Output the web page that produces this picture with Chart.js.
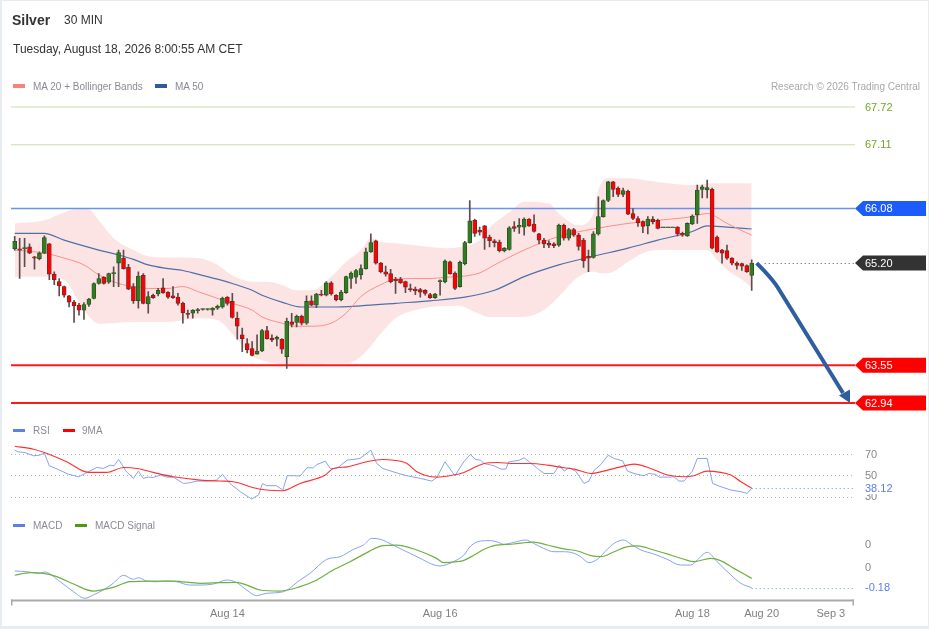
<!DOCTYPE html>
<html>
<head>
<meta charset="utf-8">
<script src="https://cdn.jsdelivr.net/npm/chart.js@4.4.0/dist/chart.umd.min.js"></script>
<style>
html,body{margin:0;padding:0;background:#fff;}
#wrap{position:relative;width:929px;height:629px;overflow:hidden;font-family:"Liberation Sans",Arial,sans-serif;}
#c{position:absolute;left:0;top:0;}
#frame{position:absolute;left:0;top:0;width:929px;height:629px;box-sizing:border-box;border-style:solid;border-color:#e6ecef;border-width:1px 1px 3px 2px;pointer-events:none;}
.t{position:absolute;white-space:nowrap;line-height:1;}
.sw{position:absolute;width:12px;height:4px;}
</style>
</head>
<body>
<div id="wrap">
  <canvas id="c" width="929" height="629"></canvas>
  <div class="t" style="left:12px;top:13px;font-size:14px;font-weight:bold;color:#333;">Silver</div>
  <div class="t" style="left:64px;top:14px;font-size:12px;color:#333;">30 MIN</div>
  <div class="t" style="left:13px;top:43px;font-size:12px;color:#333;">Tuesday, August 18, 2026 8:00:55 AM CET</div>

  <div class="sw" style="left:13px;top:84px;background:#ff7f7f;"></div>
  <div class="t" style="left:33px;top:82px;font-size:10px;color:#8a8a96;">MA 20 + Bollinger Bands</div>
  <div class="sw" style="left:155px;top:84px;background:#2f5b9a;"></div>
  <div class="t" style="left:175px;top:82px;font-size:10px;color:#8a8a96;">MA 50</div>
  <div class="t" style="right:9px;top:82px;font-size:10px;color:#a8a8a8;">Research © 2026 Trading Central</div>

  <div class="sw" style="left:13px;top:429px;height:3px;background:#5b80e8;"></div>
  <div class="t" style="left:33px;top:426px;font-size:10px;color:#8a8a96;">RSI</div>
  <div class="sw" style="left:63px;top:429px;height:3px;background:#ff0000;"></div>
  <div class="t" style="left:82px;top:426px;font-size:10px;color:#8a8a96;">9MA</div>

  <div class="sw" style="left:13px;top:524px;height:3px;background:#5b80e8;"></div>
  <div class="t" style="left:33px;top:521px;font-size:10px;color:#8a8a96;">MACD</div>
  <div class="sw" style="left:75px;top:524px;height:3px;background:#4c9a12;"></div>
  <div class="t" style="left:95px;top:521px;font-size:10px;color:#8a8a96;">MACD Signal</div>
  <div id="frame"></div>
</div>
<script>
// ---------------- DATA ----------------
const openP = [65.43,65.43,65.43,65.46,65.30,65.27,65.36,65.51,65.02,64.90,
64.82,64.67,64.57,64.52,64.44,64.53,64.63,64.87,64.97,64.89,
65.03,65.20,65.28,65.13,64.82,64.59,65.00,64.54,64.68,64.70,
64.80,64.73,64.67,64.65,64.55,64.39,64.39,64.43,64.45,64.45,
64.44,64.47,64.49,64.65,64.58,64.31,64.04,63.90,63.82,63.73,
63.78,64.11,63.99,63.97,63.97,63.69,64.25,64.24,64.34,64.23,
64.59,64.52,64.70,64.68,64.88,64.68,64.61,64.72,64.95,64.97,
65.01,65.11,65.38,65.56,65.20,65.06,65.03,64.94,64.94,64.90,
64.78,64.78,64.77,64.76,64.69,64.64,64.90,64.90,65.22,65.04,
64.82,65.19,65.53,65.89,65.73,65.80,65.62,65.56,65.54,65.40,
65.42,65.79,65.78,65.78,65.91,65.83,65.67,65.57,65.52,65.51,
65.49,65.81,65.60,65.74,65.65,65.57,65.31,65.29,65.67,65.95,
66.21,66.51,66.41,66.31,66.36,66.00,65.92,65.87,65.80,65.91,
65.89,65.77,65.77,65.77,65.78,65.68,65.64,65.83,65.98,66.39,
66.38,66.39,65.62,65.41,65.40,65.28,65.20,65.19,65.16,65.00];
const highP = [65.63,65.60,65.60,65.51,65.31,65.38,65.64,65.52,65.06,64.95,
64.83,64.68,64.60,64.55,64.56,64.63,64.88,65.03,64.98,65.04,
65.14,65.41,65.41,65.18,64.87,65.06,65.03,64.74,64.70,64.79,
64.95,64.74,64.82,64.71,64.57,64.44,64.45,64.47,64.46,64.46,
64.48,64.52,64.65,64.66,64.71,64.41,64.15,63.98,63.93,64.04,
64.13,64.18,64.04,64.02,63.98,64.31,64.39,64.36,64.36,64.67,
64.67,64.71,64.76,64.90,64.90,64.69,64.76,64.99,65.06,65.10,
65.17,65.44,65.67,65.57,65.21,65.15,65.10,64.97,64.97,64.91,
64.86,64.81,64.79,64.77,64.71,64.71,64.93,65.25,65.23,65.06,
65.23,65.55,66.21,65.91,65.78,65.81,65.65,65.58,65.57,65.45,
65.79,65.87,65.92,65.93,65.92,65.98,65.68,65.60,65.56,65.53,
65.83,65.83,65.76,65.76,65.68,65.60,65.41,65.71,66.27,66.22,
66.52,66.52,66.43,66.41,66.38,66.08,65.95,65.88,65.95,65.95,
65.91,65.77,65.77,65.77,65.79,65.70,65.85,65.98,66.46,66.46,
66.54,66.41,65.64,65.42,65.49,65.29,65.22,65.20,65.17,65.25];
const lowP = [65.41,64.95,65.14,65.35,65.10,65.25,65.35,64.93,64.85,64.67,
64.65,64.49,64.24,64.36,64.29,64.50,64.62,64.86,64.86,64.87,
64.82,64.82,65.10,64.77,64.55,64.47,64.54,64.39,64.63,64.67,
64.71,64.63,64.63,64.52,64.23,64.31,64.31,64.39,64.44,64.44,
64.36,64.45,64.47,64.52,64.31,63.97,63.77,63.75,63.70,63.73,
63.77,63.97,63.93,63.86,63.74,63.50,64.17,64.17,64.20,64.21,
64.51,64.48,64.67,64.67,64.68,64.59,64.59,64.71,64.79,64.87,
64.94,65.10,65.37,65.18,65.04,64.99,64.88,64.71,64.87,64.72,
64.74,64.69,64.65,64.68,64.63,64.63,64.68,64.88,65.02,64.77,
64.81,65.17,65.52,65.63,65.65,65.42,65.46,65.46,65.38,65.38,
65.41,65.71,65.68,65.65,65.79,65.70,65.51,65.45,65.45,65.45,
65.47,65.57,65.57,65.63,65.41,65.13,65.06,65.28,65.65,65.94,
66.19,66.27,66.27,66.27,65.98,65.90,65.79,65.69,65.67,65.83,
65.75,65.77,65.77,65.77,65.64,65.63,65.63,65.82,65.84,66.25,
66.25,65.43,65.37,65.20,65.26,65.17,65.10,65.08,65.05,64.76];
const closeP = [65.55,65.41,65.45,65.36,65.28,65.36,65.61,65.02,64.93,64.83,
64.68,64.57,64.51,64.44,64.53,64.62,64.87,64.95,64.87,65.03,
65.04,65.37,65.11,64.78,64.59,64.99,64.55,64.66,64.64,64.76,
64.72,64.65,64.64,64.55,64.40,64.37,64.44,64.45,64.45,64.45,
64.47,64.50,64.63,64.55,64.32,64.18,63.98,63.80,63.71,63.78,
64.11,63.98,63.96,64.00,63.81,64.26,64.21,64.34,64.23,64.58,
64.52,64.70,64.68,64.88,64.70,64.61,64.73,64.98,65.04,65.08,
65.11,65.38,65.53,65.20,65.06,65.02,64.90,64.91,64.88,64.81,
64.77,64.75,64.73,64.71,64.64,64.70,64.91,65.23,65.03,64.79,
65.21,65.53,65.88,65.68,65.70,65.60,65.56,65.53,65.40,65.44,
65.77,65.76,65.81,65.91,65.80,65.71,65.57,65.51,65.49,65.48,
65.81,65.60,65.74,65.65,65.47,65.24,65.28,65.67,65.95,66.21,
66.51,66.39,66.31,66.37,65.99,65.92,65.85,65.79,65.91,65.87,
65.76,65.77,65.77,65.77,65.67,65.65,65.84,65.96,66.38,66.43,
66.42,65.44,65.38,65.36,65.28,65.20,65.16,65.15,65.06,65.20];

const ma20X = [0,6,10,14,17,21,24,27,31,34,37,41,44,48,50,54,57,60,64,67,70,74,77,81,84,87,91,94,97,103,110,117,124,130,137,140,141,144,149];
const ma20Y = [65.41,65.36,65.28,65.17,65.01,64.87,64.82,64.79,64.79,64.82,64.74,64.63,64.55,64.44,64.33,64.23,64.18,64.18,64.23,64.39,64.66,64.85,64.94,64.95,64.95,64.97,64.99,65.04,65.17,65.41,65.63,65.75,65.84,65.89,65.95,66.00,65.98,65.84,65.65];
const ma50X = [0,6,10,17,21,24,27,31,34,37,41,44,48,50,54,58,64,70,77,84,91,97,103,110,117,124,130,137,140,144,149];
const ma50Y = [65.68,65.68,65.57,65.41,65.33,65.26,65.17,65.11,65.08,65.02,64.94,64.87,64.76,64.68,64.57,64.49,64.49,64.51,64.55,64.59,64.65,64.76,64.98,65.17,65.31,65.44,65.57,65.71,65.80,65.78,65.75];
const bbUpX = [0,6,10,13,15,17,20,24,27,31,37,41,44,48,51,54,57,60,64,67,70,72,74,77,84,87,90,94,96,100,103,108,110,114,117,118,120,124,130,137,141,149];
const bbUpY = [65.84,65.89,66.02,66.08,66.07,65.89,65.60,65.41,65.31,65.29,65.28,65.17,65.00,64.90,64.90,64.85,64.76,64.76,64.98,65.22,65.41,65.60,65.54,65.52,65.46,65.44,65.46,65.57,65.77,66.02,66.19,66.16,66.00,65.81,66.00,66.38,66.57,66.57,66.51,66.46,66.49,66.49];
const bbLoX = [0,7,10,14,17,24,31,37,41,45,48,50,57,64,67,70,74,77,81,84,90,93,96,103,107,110,114,117,119,121,124,127,130,140,142,144,147,149];
const bbLoY = [64.98,64.98,64.93,64.44,64.22,64.25,64.25,64.31,64.28,63.96,63.70,63.63,63.55,63.58,63.58,63.69,64.06,64.31,64.44,64.49,64.51,64.41,64.33,64.33,64.44,64.66,64.98,65.06,65.03,65.06,65.22,65.36,65.41,65.41,65.25,65.09,64.93,64.81];

const rsiX = [0,0.7,2.1,3.8,5,6,7,8.8,10.8,12.9,14.9,16.6,17.9,19.3,20.1,21,22.6,24,25,26,27,28,29.4,30.7,32.1,34.1,35.4,36.8,38.8,40.8,42,43.5,45.6,47.9,49.3,50.1,50.9,52.9,54.2,55.1,56.4,57.7,59.1,60.4,61.1,62.8,63.8,65.1,67.2,69.8,72,73.2,74.4,75.7,77.2,79.3,82,84.3,85.3,87,89,90.8,92.1,93.2,94.2,94.9,96.9,98.3,99.3,99.9,100.9,102,103,104.3,105.7,107,109,110.1,111.1,112.1,113.4,115.1,116.1,117.1,118.5,120,121.2,122.9,123.9,125.2,127.2,128.2,129.6,130.3,132,133.3,134.3,135.3,137,138,140,141.1,142.4,144.8,146.8,148.1,149];
const rsiY = [73.5,72.0,71.4,68.3,68.9,70.7,59.0,55.5,51.2,48.7,53.4,57.4,56.5,59.6,59.0,64.9,53.4,47.2,54.0,47.2,48.4,48.1,50.3,48.4,48.4,42.5,43.1,44.7,44.7,45.6,50.9,42.5,34.8,28.0,31.7,42.5,40.4,40.4,36.3,49.7,49.7,49.4,57.1,57.1,60.2,63.3,56.5,56.5,64.2,65.8,73.5,61.1,56.5,54.6,52.4,49.7,47.2,44.7,47.8,62.7,49.7,62.7,69.5,64.9,64.2,61.1,59.0,55.9,55.9,62.7,63.3,64.2,66.4,61.7,56.5,51.8,51.8,59.6,54.0,57.1,54.0,42.5,44.7,54.6,60.2,68.9,65.8,63.6,54.0,51.8,49.7,51.8,50.9,48.4,48.4,48.7,44.7,44.7,54.0,65.8,65.8,42.5,40.0,36.3,34.8,33.2,38.12];
const rsiMaX = [0,3.8,6,10.5,14.9,18.6,22,24.7,28,32.1,37.5,41.5,44.2,48.3,50.9,54.2,57.7,62.8,64.4,67.2,71.2,74.4,76.6,79.3,81.3,85.3,88.7,90.8,94.9,97.6,100.9,104.3,107.7,111.1,113.1,116.5,119.1,122.5,125.2,128.6,132,135.3,137.3,140,142.7,144.8,146.8,149];
const rsiMaY = [77.3,74.5,71.4,62.7,52.8,52.8,57.4,56.5,52.8,48.7,45.6,44.7,44.1,38.5,36.3,35.7,42.5,50.3,56.5,58.0,62.7,64.9,64.2,61.1,53.4,48.4,50.3,52.8,61.1,62.1,61.1,61.1,59.6,57.1,55.9,51.8,54.0,58.0,60.5,56.5,50.3,48.7,49.7,54.0,52.8,50.3,44.1,38.12];

const macdX = [0,2.4,5,6,9.2,11.9,14.2,15.9,17.9,19.9,22,24,25,26.7,28.7,30.7,32.7,35.4,37.5,40.2,42.9,44.9,46.9,48.9,50.9,54.3,57.7,59.7,63.1,65.8,68.5,70.5,72.2,73.9,76.5,81.3,86,88.7,90.8,92.2,94.2,96.2,97.6,98.9,100.9,103.3,104.9,106.9,109,111.1,113.1,114.4,116.1,117.8,119.8,121.2,123.1,124.5,126.6,129.2,131.9,134.6,136.7,138,140,142,144.8,146.8,149];
const macdY = [-0.035,-0.041,-0.055,-0.043,-0.128,-0.215,-0.272,-0.243,-0.200,-0.142,-0.072,-0.107,-0.093,-0.122,-0.128,-0.122,-0.128,-0.157,-0.157,-0.148,-0.113,-0.136,-0.200,-0.249,-0.229,-0.215,-0.113,-0.055,0.067,0.090,0.154,0.191,0.249,0.241,0.191,0.090,0.009,0.046,0.104,0.183,0.226,0.229,0.217,0.197,0.214,0.235,0.206,0.162,0.133,0.133,0.119,0.090,0.038,0.067,0.154,0.206,0.235,0.200,0.148,0.113,0.067,0.017,0.017,0.061,0.128,0.046,-0.070,-0.142,-0.18];
const sigX = [0,3.1,5.8,8.5,11.9,15.9,19.9,23.3,27.4,32.1,37.5,41.5,44.9,46.9,49.6,53.6,57.7,61.1,64.4,67.8,71.2,74.4,77.2,81.3,85.3,86.7,89.4,90.8,92.9,94.9,96.9,100.9,104.9,107.7,111.1,113.8,116.5,118.5,121.2,123.9,125.9,129.2,132.6,135.3,137.3,140.7,142.7,145.4,149];
const sigY = [-0.072,-0.049,-0.055,-0.084,-0.148,-0.209,-0.177,-0.128,-0.122,-0.122,-0.142,-0.136,-0.133,-0.157,-0.200,-0.209,-0.171,-0.113,-0.026,0.046,0.125,0.186,0.191,0.148,0.075,0.038,0.046,0.058,0.104,0.154,0.186,0.200,0.217,0.191,0.157,0.139,0.099,0.090,0.133,0.177,0.183,0.148,0.104,0.067,0.046,0.075,0.055,-0.012,-0.099];

const xTickPos = [43, 86, 137, 151, 165];
const xTickLbl = ['Aug 14', 'Aug 16', 'Aug 18', 'Aug 20', 'Sep 3'];
const levelsGreen = [67.72, 67.11];
const levelBlue = 66.08;
const levelsRed = [63.55, 62.94];
const targetPrice = 62.94;
const lastPrice = closeP[closeP.length - 1];
const rsiLevels = [70, 50, 30];
const macdTicks = [0.2, 0];

// ---------------- LAYOUT ----------------
const FONT = '"Liberation Sans", Arial, sans-serif';
Chart.defaults.font.family = FONT;
const TOP = 95, BOT = 599.5, LEFT = 11, RIGHT = 854, W = 929, H = 629;
function rangeFor(v1, y1, v2, y2) {
  const k = (v1 - v2) / (y2 - y1);
  return { max: v1 + (y1 - TOP) * k, min: v1 - (BOT - y1) * k };
}
const rMain = rangeFor(67.72, 107, 62.94, 403);
const rRsi = rangeFor(70, 454, 30, 496.8);
const rMacd = rangeFor(0.2, 544, 0, 567);
const pxPerIdx = 737 / 149;
const xMin = -(14.7 - LEFT) / pxPerIdx;
const xMax = xMin + (RIGHT - LEFT) / pxPerIdx;

const pts = (xs, ys) => xs.map((x, k) => ({ x: x, y: ys[k] }));
const N = closeP.length;
const idx = closeP.map((_, i) => i);
const isUp = i => closeP[i] >= openP[i];

const lineBase = { type: 'line', pointRadius: 0, fill: false, borderJoinStyle: 'round' };

const overlay = {
  id: 'overlay',
  beforeDatasetsDraw(chart) {
    const { ctx, chartArea: a, scales } = chart;
    ctx.save();
    ctx.setLineDash([1, 3]);
    ctx.strokeStyle = '#b5b5b5';
    ctx.lineWidth = 1;
    rsiLevels.forEach(v => {
      const py = Math.round(scales.yR.getPixelForValue(v)) + 0.5;
      ctx.beginPath(); ctx.moveTo(a.left, py); ctx.lineTo(a.right, py); ctx.stroke();
    });
    ctx.restore();
  },
  afterDatasetDraw(chart, args) {
    if (args.index !== 1) return;
    const { ctx, chartArea: a, scales } = chart;
    const y = scales.y;
    ctx.save();
    const hl = (v, c, w) => {
      const py = y.getPixelForValue(v);
      ctx.strokeStyle = c; ctx.lineWidth = w;
      ctx.beginPath(); ctx.moveTo(a.left, py); ctx.lineTo(a.right + 1, py); ctx.stroke();
    };
    levelsGreen.forEach(v => hl(v, '#c5dfac', 1));
    hl(levelBlue, '#6893ea', 1.6);
    levelsRed.forEach(v => hl(v, '#ff1a1a', 2));
    ctx.restore();
  },
  afterDatasetsDraw(chart) {
    const { ctx, chartArea: a, scales } = chart;
    const xs = scales.x, y = scales.y, yR = scales.yR, yM = scales.yM;
    const lx = a.right + 11;
    const rightEdge = W - 3;
    ctx.save();
    ctx.font = '11px ' + FONT;
    ctx.textBaseline = 'middle';
    ctx.textAlign = 'left';

    ctx.fillStyle = '#6fa624';
    levelsGreen.forEach(v => ctx.fillText(v.toFixed(2), lx, y.getPixelForValue(v) + 0.5));

    const badge = (v, color, scale) => {
      const yc = scale.getPixelForValue(v);
      const h = 7.5, tip = a.right + 1;
      ctx.fillStyle = color;
      ctx.beginPath();
      ctx.moveTo(tip, yc); ctx.lineTo(tip + 8, yc - h); ctx.lineTo(rightEdge, yc - h);
      ctx.lineTo(rightEdge, yc + h); ctx.lineTo(tip + 8, yc + h); ctx.closePath(); ctx.fill();
      ctx.fillStyle = '#fff';
      ctx.fillText(v.toFixed(2), lx, yc + 0.5);
    };
    badge(levelBlue, '#1c5cfa', y);
    levelsRed.forEach(v => badge(v, '#ff0000', y));

    const xLast = xs.getPixelForValue(N - 1);
    const yLast = y.getPixelForValue(lastPrice);
    ctx.save();
    ctx.setLineDash([1, 3]); ctx.strokeStyle = '#555'; ctx.lineWidth = 1;
    ctx.beginPath(); ctx.moveTo(xLast + 13, Math.round(yLast) + 0.5); ctx.lineTo(a.right, Math.round(yLast) + 0.5); ctx.stroke();
    ctx.restore();
    badge(lastPrice, '#333333', y);

    const tipX = a.right - 4, tipY = y.getPixelForValue(targetPrice);
    ctx.save();
    ctx.strokeStyle = '#2f5e9e'; ctx.fillStyle = '#2f5e9e';
    ctx.lineWidth = 4; ctx.lineJoin = 'round'; ctx.lineCap = 'butt';
    ctx.beginPath();
    ctx.moveTo(xLast + 5, yLast);
    ctx.quadraticCurveTo(xLast + 22, yLast + 17, xLast + 27, yLast + 26);
    ctx.lineTo(tipX - 7, tipY - 10);
    ctx.stroke();
    ctx.beginPath();
    ctx.moveTo(tipX - 11, tipY - 7.5);
    ctx.lineTo(tipX, tipY - 13.5);
    ctx.lineTo(tipX, tipY);
    ctx.closePath(); ctx.fill();
    ctx.restore();

    ctx.fillStyle = '#888';
    rsiLevels.forEach(v => ctx.fillText(String(v), lx, yR.getPixelForValue(v) + 0.5));
    const rsiLast = rsiY[rsiY.length - 1];
    const yRl = yR.getPixelForValue(rsiLast);
    ctx.fillStyle = '#fff';
    ctx.fillRect(lx - 2, yRl - 6, 32, 12);
    ctx.fillStyle = '#5b7fe8';
    ctx.fillText(rsiLast.toFixed(2), lx, yRl + 0.5);
    ctx.save();
    ctx.setLineDash([1, 3]); ctx.strokeStyle = '#6b8ef0'; ctx.lineWidth = 1;
    ctx.beginPath(); ctx.moveTo(xLast, Math.round(yRl) + 0.5); ctx.lineTo(a.right, Math.round(yRl) + 0.5); ctx.stroke();
    ctx.restore();

    ctx.fillStyle = '#888';
    macdTicks.forEach(v => ctx.fillText(v.toFixed(0), lx, yM.getPixelForValue(v) + 0.5));
    const macdLast = macdY[macdY.length - 1];
    const yMl = yM.getPixelForValue(macdLast);
    ctx.fillStyle = '#5b7fe8';
    ctx.fillText(macdLast.toFixed(2), lx, yMl + 0.5);
    ctx.save();
    ctx.setLineDash([1, 3]); ctx.strokeStyle = '#6b8ef0'; ctx.lineWidth = 1;
    ctx.beginPath(); ctx.moveTo(xLast, Math.round(yMl) + 0.5); ctx.lineTo(a.right, Math.round(yMl) + 0.5); ctx.stroke();
    ctx.restore();

    ctx.strokeStyle = '#a9a9a9'; ctx.lineWidth = 2;
    ctx.beginPath();
    ctx.moveTo(a.left, a.bottom + 1); ctx.lineTo(a.right, a.bottom + 1);
    ctx.stroke();
    ctx.lineWidth = 1.5;
    ctx.beginPath();
    ctx.moveTo(a.left + 0.75, a.bottom); ctx.lineTo(a.left + 0.75, a.bottom + 6);
    ctx.moveTo(a.right - 0.75, a.bottom); ctx.lineTo(a.right - 0.75, a.bottom + 6);
    ctx.stroke();
    ctx.fillStyle = '#808080';
    ctx.textAlign = 'center';
    xTickPos.forEach((p, k) => ctx.fillText(xTickLbl[k], xs.getPixelForValue(p), a.bottom + 14));
    ctx.restore();
  }
};

new Chart(document.getElementById('c'), {
  type: 'line',
  data: {
    datasets: [
      Object.assign({}, lineBase, { data: pts(bbUpX, bbUpY), borderColor: 'transparent', borderWidth: 1, cubicInterpolationMode: 'monotone', yAxisID: 'y', order: 20 }),
      Object.assign({}, lineBase, { data: pts(bbLoX, bbLoY), borderColor: 'transparent', borderWidth: 1, cubicInterpolationMode: 'monotone', fill: 0, backgroundColor: 'rgba(250,180,180,0.36)', yAxisID: 'y', order: 19 }),
      Object.assign({}, lineBase, { data: pts(ma50X, ma50Y), borderColor: '#4d70a8', borderWidth: 1.2, cubicInterpolationMode: 'monotone', yAxisID: 'y', order: 18 }),
      Object.assign({}, lineBase, { data: pts(ma20X, ma20Y), borderColor: '#ff8c8c', borderWidth: 1, cubicInterpolationMode: 'monotone', yAxisID: 'y', order: 17 }),
      {
        type: 'bar', yAxisID: 'y', order: 16, grouped: false,
        data: idx.map(i => ({ x: i, y: [lowP[i], highP[i]] })),
        backgroundColor: '#5e4c4c', barThickness: 1, borderWidth: 0
      },
      {
        type: 'bar', yAxisID: 'y', order: 15, grouped: false,
        data: idx.map(i => ({ x: i, y: [openP[i], closeP[i]] })),
        backgroundColor: c => isUp(c.dataIndex) ? '#2f7d22' : '#ff0000',
        borderColor: c => isUp(c.dataIndex) ? '#28501c' : '#6a2a2a',
        borderWidth: 0.8, borderSkipped: false, barThickness: 4, minBarLength: 1
      },
      Object.assign({}, lineBase, { data: pts(rsiX, rsiY), borderColor: '#86a3ee', borderWidth: 1, tension: 0, yAxisID: 'yR', order: 4 }),
      Object.assign({}, lineBase, { data: pts(rsiMaX, rsiMaY), borderColor: '#ff3030', borderWidth: 1.1, cubicInterpolationMode: 'monotone', yAxisID: 'yR', order: 3 }),
      Object.assign({}, lineBase, { data: pts(macdX, macdY), borderColor: '#86a3ee', borderWidth: 1, cubicInterpolationMode: 'monotone', yAxisID: 'yM', order: 2 }),
      Object.assign({}, lineBase, { data: pts(sigX, sigY), borderColor: '#6fb042', borderWidth: 1.2, cubicInterpolationMode: 'monotone', yAxisID: 'yM', order: 1 })
    ]
  },
  options: {
    responsive: false,
    animation: false,
    events: [],
    layout: { padding: { left: LEFT, right: W - RIGHT, top: TOP, bottom: H - BOT } },
    plugins: { legend: { display: false }, tooltip: { enabled: false } },
    scales: {
      x: { type: 'linear', min: xMin, max: xMax, display: false, offset: false },
      y: { type: 'linear', min: rMain.min, max: rMain.max, display: false },
      yR: { type: 'linear', axis: 'y', min: rRsi.min, max: rRsi.max, display: false },
      yM: { type: 'linear', axis: 'y', min: rMacd.min, max: rMacd.max, display: false }
    }
  },
  plugins: [overlay]
});
</script>
</body>
</html>
